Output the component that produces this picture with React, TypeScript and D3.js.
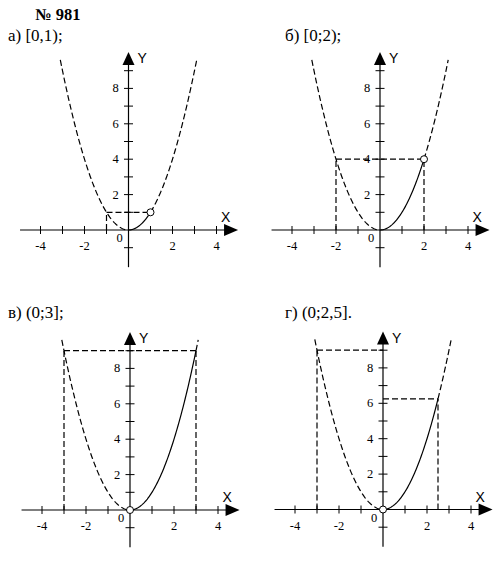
import React from "react";
import * as d3 from "d3";

const titleText = "№ 981";
const panelLabels = ["а) [0,1);", "б) [0;2);", "в) (0;3];", "г) (0;2,5]."];
// solid part of y = x^2 for each panel: [from, to]
const solidRanges: [number, number][] = [[0, 1], [0, 2], [0, 3], [0, 2.5]];
// open circle point per panel [x, y]
const openPoints: [number, number][] = [[1, 1], [2, 4], [0, 0], [0, 0]];
// dashed guide segments per panel: [x1, y1, x2, y2]
const guidesA: number[][] = [[-1, 1, 1, 1], [-1, 0, -1, 1]];
const guidesB: number[][] = [[-2, 4, 2, 4], [-2, 0, -2, 4], [2, 0, 2, 4]];
const guidesC: number[][] = [[-3, 9, 3, 9], [-3, 0, -3, 9], [3, 0, 3, 9]];
const guidesD: number[][] = [[-3, 9, 0, 9], [-3, 0, -3, 9], [0, 6.25, 2.5, 6.25], [2.5, 0, 2.5, 6.25]];
const guides = [guidesA, guidesB, guidesC, guidesD];
const curveDomain: [number, number] = [-3.1, 3.1];
const xTicks = [-4, -3, -2, -1, 1, 2, 3, 4];
const xTickLabels = [-4, -2, 2, 4];
const yTicks = [-1, 1, 2, 3, 4, 5, 6, 7, 8, 9];
const yTickLabels = [2, 4, 6, 8];

const origins: [number, number][] = [[128.5, 230], [380, 230], [130, 510], [383, 509.5]];
const labelPos: [number, number][] = [[8, 41], [285, 41], [8, 318], [285, 318]];

const UX = 22;
const UY = 17.7;
const SERIF = "'Liberation Serif', 'Times New Roman', Times, serif";
const SANS = "'Liberation Sans', Arial, Helvetica, sans-serif";

function Panel({ idx }: { idx: number }) {
  const [ox, oy] = origins[idx];
  const x = d3.scaleLinear().domain([0, 1]).range([ox, ox + UX]);
  const y = d3.scaleLinear().domain([0, 1]).range([oy, oy - UY]);
  const f = (t: number) => t * t;
  const line = d3.line<number>().x((t) => x(t)).y((t) => y(f(t)));
  const samples = (a: number, b: number) => d3.range(0, 81).map((i) => a + ((b - a) * i) / 80);
  const [s0, s1] = solidRanges[idx];
  const dashSegs: [number, number][] = [];
  if (s0 > curveDomain[0]) dashSegs.push([curveDomain[0], s0]);
  if (s1 < curveDomain[1]) dashSegs.push([s1, curveDomain[1]]);
  const [px, py] = openPoints[idx];
  const xEnd = x(4.98);
  const yEnd = y(10.05);
  return (
    <g>
      {guides[idx].map((g, i) => (
        <line key={"g" + i} x1={x(g[0])} y1={y(g[1])} x2={x(g[2])} y2={y(g[3])}
          stroke="#000" strokeWidth={1.2} strokeDasharray="6,3" />
      ))}
      <line x1={x(-4.93)} y1={oy} x2={xEnd - 6} y2={oy} stroke="#000" strokeWidth={1.2} />
      <path d={`M${xEnd},${oy} L${xEnd - 14},${oy - 6} L${xEnd - 14},${oy + 6} Z`} fill="#000" />
      <line x1={ox} y1={y(-2.1)} x2={ox} y2={yEnd + 6} stroke="#000" strokeWidth={1.2} />
      <path d={`M${ox},${yEnd} L${ox - 6},${yEnd + 13} L${ox + 6},${yEnd + 13} Z`} fill="#000" />
      {xTicks.map((t) => (
        <line key={"xt" + t} x1={x(t)} x2={x(t)} y1={oy - 4} y2={oy + 4} stroke="#000" strokeWidth={1} />
      ))}
      {yTicks.map((t) => (
        <line key={"yt" + t} x1={ox - 4.5} x2={ox + 4.5} y1={y(t)} y2={y(t)} stroke="#000" strokeWidth={1} />
      ))}
      {xTickLabels.map((t) => (
        <text key={"xl" + t} x={x(t)} y={oy + 20} textAnchor="middle"
          style={{ fontFamily: SERIF }} fontSize={12.5}>{t}</text>
      ))}
      {yTickLabels.map((t) => (
        <text key={"yl" + t} x={ox - 13} y={y(t) + 4} textAnchor="middle"
          style={{ fontFamily: SERIF }} fontSize={12.5}>{t}</text>
      ))}
      <text x={ox - 9} y={oy + 12} textAnchor="middle" style={{ fontFamily: SERIF }} fontSize={12.5}>0</text>
      <text x={ox + 9} y={yEnd + 11} style={{ fontFamily: SANS }} fontSize={14}>Y</text>
      <text x={xEnd - 17} y={oy - 8} style={{ fontFamily: SANS }} fontSize={14}>X</text>
      {dashSegs.map((s, i) => (
        <path key={"d" + i} d={line(samples(s[0], s[1])) || ""} fill="none" stroke="#000"
          strokeWidth={1.2} strokeDasharray="6,3" />
      ))}
      <path d={line(samples(s0, s1)) || ""} fill="none" stroke="#000" strokeWidth={1.2} />
      <circle cx={x(px)} cy={y(py)} r={3.5} fill="#fff" stroke="#000" strokeWidth={1} />
      <text x={labelPos[idx][0]} y={labelPos[idx][1]} style={{ fontFamily: SERIF }} fontSize={17}>
        {panelLabels[idx]}
      </text>
    </g>
  );
}

export default function App() {
  return (
    <svg width={499} height={562} style={{ position: "absolute", left: 0, top: 0, background: "#fff" }}>
      <rect width={499} height={562} fill="#fff" />
      <text x={35} y={20} style={{ fontFamily: SERIF }} fontWeight="bold" fontSize={16.5}>{titleText}</text>
      {[0, 1, 2, 3].map((i) => <Panel key={i} idx={i} />)}
    </svg>
  );
}
